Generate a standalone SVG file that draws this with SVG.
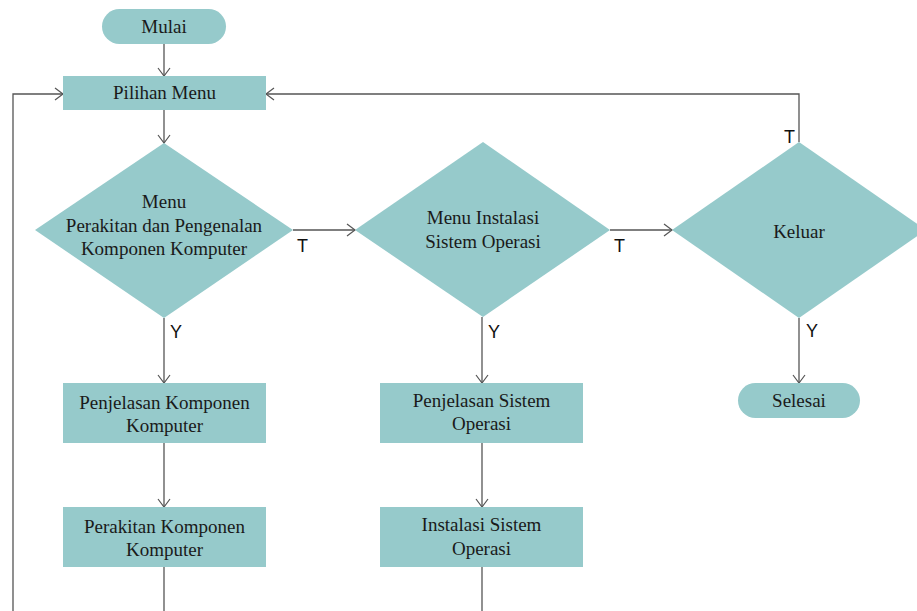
<svg xmlns="http://www.w3.org/2000/svg" width="917" height="611" viewBox="0 0 917 611">
<defs>
<marker id="arr" markerUnits="userSpaceOnUse" markerWidth="12" markerHeight="14" refX="9" refY="7" orient="auto">
<path d="M1,1 L9,7 L1,13" fill="none" stroke="#555" stroke-width="1.2"/>
</marker>
<style>
.shape{fill:#96cacb;stroke:none}
.t{font-family:"Liberation Serif","Times New Roman",serif;font-size:19px;fill:#1a1a1a;text-anchor:middle}
.lbl{font-family:"Liberation Sans",Arial,sans-serif;font-size:18px;fill:#111}
.c{fill:none;stroke:#555;stroke-width:1.3}
</style>
</defs>
<rect width="917" height="611" fill="#fff"/>
<g id="connectors">
<line class="c" x1="164" y1="44" x2="164" y2="76" marker-end="url(#arr)"/>
<line class="c" x1="164" y1="110" x2="164" y2="143" marker-end="url(#arr)"/>
<line class="c" x1="293" y1="230" x2="355" y2="230" marker-end="url(#arr)"/>
<line class="c" x1="610" y1="230" x2="672" y2="230" marker-end="url(#arr)"/>
<path class="c" d="M799,142 V94 H266" marker-end="url(#arr)"/>
<line class="c" x1="799" y1="318" x2="799" y2="383" marker-end="url(#arr)"/>
<line class="c" x1="164" y1="318" x2="164" y2="383" marker-end="url(#arr)"/>
<line class="c" x1="164" y1="443" x2="164" y2="507" marker-end="url(#arr)"/>
<line class="c" x1="164" y1="567" x2="164" y2="611"/>
<path class="c" d="M13,611 V94 H63" marker-end="url(#arr)"/>
<line class="c" x1="482" y1="317" x2="482" y2="383" marker-end="url(#arr)"/>
<line class="c" x1="482" y1="443" x2="482" y2="507" marker-end="url(#arr)"/>
<line class="c" x1="482" y1="567" x2="482" y2="611"/>
<text class="lbl" x="297" y="252">T</text>
<text class="lbl" x="614" y="252">T</text>
<text class="lbl" x="784" y="143">T</text>
<text class="lbl" x="170" y="338">Y</text>
<text class="lbl" x="488" y="338">Y</text>
<text class="lbl" x="806" y="337">Y</text>
</g>
<g id="mulai">
<rect class="shape" x="102" y="9" width="124" height="35" rx="17.5"/>
<text class="t" x="164" y="33">Mulai</text>
</g>
<g id="pilihan-menu">
<rect class="shape" x="63" y="76" width="203" height="34"/>
<text class="t" x="164.5" y="99">Pilihan Menu</text>
</g>
<g id="menu-perakitan">
<polygon class="shape" points="164,143 293,230 164,318 35,230"/>
<text class="t" x="164" y="208">Menu</text>
<text class="t" x="164" y="232">Perakitan dan Pengenalan</text>
<text class="t" x="164" y="255">Komponen Komputer</text>
</g>
<g id="menu-instalasi">
<polygon class="shape" points="483,142 610,230 483,317 355,230"/>
<text class="t" x="483" y="224">Menu Instalasi</text>
<text class="t" x="483" y="248">Sistem Operasi</text>
</g>
<g id="keluar">
<polygon class="shape" points="799,142 926,230 799,318 672,230"/>
<text class="t" x="799" y="238">Keluar</text>
</g>
<g id="selesai">
<rect class="shape" x="738" y="383" width="122" height="35" rx="17.5"/>
<text class="t" x="799" y="407">Selesai</text>
</g>
<g id="penjelasan-komponen">
<rect class="shape" x="63" y="383" width="203" height="60"/>
<text class="t" x="164.5" y="409">Penjelasan Komponen</text>
<text class="t" x="164.5" y="432">Komputer</text>
</g>
<g id="perakitan-komponen">
<rect class="shape" x="63" y="507" width="203" height="60"/>
<text class="t" x="164.5" y="533">Perakitan Komponen</text>
<text class="t" x="164.5" y="556">Komputer</text>
</g>
<g id="penjelasan-sistem">
<rect class="shape" x="380" y="383" width="203" height="60"/>
<text class="t" x="481.5" y="407">Penjelasan Sistem</text>
<text class="t" x="481.5" y="430">Operasi</text>
</g>
<g id="instalasi-sistem">
<rect class="shape" x="380" y="507" width="203" height="60"/>
<text class="t" x="481.5" y="531">Instalasi Sistem</text>
<text class="t" x="481.5" y="555">Operasi</text>
</g>
</svg>
